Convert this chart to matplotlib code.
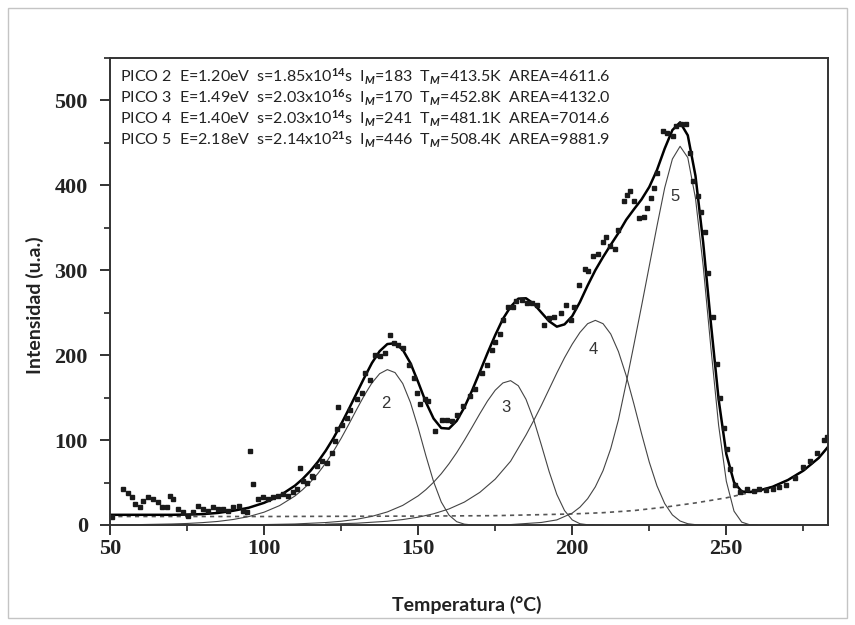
import matplotlib.pyplot as plt
from matplotlib.ticker import MultipleLocator
from matplotlib.patches import Rectangle

plt.rcParams['font.family'] = 'Liberation Serif'
plt.rcParams['font.weight'] = 'bold'
plt.rcParams['mathtext.fontset'] = 'custom'
plt.rcParams['mathtext.rm'] = 'Lato'
plt.rcParams['mathtext.it'] = 'Lato:italic'
plt.rcParams['mathtext.bf'] = 'Lato:bold'

# puntos experimentales (curva de TL medida)
temp_exp = [50.5, 54.3, 55.9, 57.0, 58.1, 59.7, 60.8, 62.4, 64.0, 65.7, 66.8, 68.4, 69.5, 70.6,
            72.2, 73.8, 75.4, 77.0, 78.7, 80.3, 81.9, 83.5, 85.2, 86.8, 88.4, 90.0, 91.7, 93.3,
            94.4, 95.5, 96.5, 98.1, 99.8, 101.4, 103.0, 104.6, 106.3, 107.9, 109.5, 110.6, 111.7,
            112.7, 113.8, 115.5, 116.0, 117.1, 118.7, 120.4, 122.0, 123.1, 123.6, 124.1, 125.2,
            126.8, 127.9, 130.1, 131.7, 132.8, 134.4, 136.0, 137.7, 139.3, 140.9, 142.0, 143.6,
            145.2, 146.9, 148.5, 149.6, 150.6, 152.3, 153.3, 155.5, 157.7, 159.3, 160.9, 162.6,
            164.7, 166.9, 168.5, 170.7, 172.3, 173.9, 174.9, 176.5, 177.6, 179.2, 180.8, 181.9,
            183.6, 185.2, 186.9, 188.5, 190.7, 192.4, 194.0, 196.3, 197.9, 199.6, 200.7, 202.3,
            204.0, 205.1, 206.7, 208.4, 210.0, 211.1, 212.2, 213.9, 215.0, 216.7, 217.7, 218.8,
            219.9, 221.6, 223.2, 224.3, 225.4, 226.5, 227.6, 229.3, 230.9, 232.6, 233.7, 235.3,
            237.0, 238.1, 239.2, 240.8, 241.9, 243.1, 244.2, 245.8, 246.9, 248.0, 249.1, 250.2,
            251.3, 252.9, 254.6, 256.8, 259.0, 260.6, 262.9, 265.0, 267.2, 269.5, 272.2, 274.9,
            277.2, 279.3, 281.6, 282.8]
int_exp = [9, 42, 38, 32.5, 25, 21, 28.5, 32.5, 30.5, 26.6, 21, 21, 34.4, 30.5,
           19, 15, 11, 15, 22.7, 18.8, 16.8, 20.8, 18.8, 18.8, 16.8, 20.8, 22.7, 16.8,
           15, 87, 48, 30.5, 32.5, 30.5, 32.5, 34.4, 36.4, 34.4, 38.3, 42, 67.7,
           52, 50, 58, 56, 69.6, 75.5, 73.6, 85, 99, 112.7, 139, 118,
           126, 136, 148, 155.7, 179, 171, 200.7, 198.7, 202.7, 224, 214, 212,
           208.6, 189, 173, 155.7, 142, 148, 146, 110.7, 124, 124, 122, 130,
           140, 151.8, 159.6, 179, 189, 206.6, 215, 225.5, 241.4, 257.3, 257.3, 263.3,
           265.3, 261.3, 261.3, 259.3, 235.4, 243.4, 245.3, 249.3, 259.3, 241.4, 257.3, 283.2,
           301, 299, 317, 319, 333, 339, 329, 325, 347, 381, 389, 393,
           381, 361, 363, 373, 385, 397, 414, 464, 462, 458, 470, 472,
           472, 438, 405, 387, 369, 345, 297, 245, 190, 150, 114, 90,
           66, 47, 39, 42, 40, 42, 41, 42, 45, 47, 55, 68,
           75, 85, 100, 104]

# curva ajustada total
temp_ajuste = [50, 60, 70, 75, 80, 85, 90, 95, 100, 105, 110, 112.5, 115, 117.5, 120, 122.5,
               125, 127.5, 130, 132.5, 135, 137.5, 140, 142.5, 145, 147.5, 150, 152.5, 155,
               157.5, 160, 162.5, 165, 167.5, 170, 172.5, 175, 177.5, 180, 182.5, 185, 187.5,
               190, 192.5, 195, 197.5, 200, 202.5, 205, 207.5, 210, 212.5, 215, 217.5, 220,
               222.5, 225, 227.5, 230, 232.5, 235, 237.5, 240, 242.5, 245, 247.5, 250, 252.5,
               255, 257.5, 260, 265, 270, 275, 280, 283]
int_ajuste = [12, 12, 12, 12.3, 12.8, 14.2, 16.8, 20.3, 26.1, 34.3, 46.3, 54.2, 63.6, 74.6, 87.5, 102.2,
              118.7, 136.5, 154.9, 173.3, 190.8, 204.7, 213.1, 214.1, 206.4, 190.6, 168.3, 144.7, 125.4,
              114.2, 113.5, 122.6, 138.6, 158.4, 180.2, 202.4, 223.5, 242.7, 257, 266.6, 267, 260.6,
              250.2, 240, 233.6, 236.3, 246, 262.6, 282.1, 300.1, 315.6, 330, 343.9, 359.4, 371.7,
              383.5, 398.1, 418.1, 443.3, 465.1, 474.2, 458.9, 411.1, 332.5, 237.6, 148.1, 83.6, 50.3,
              39.4, 38.9, 40, 45, 53, 64, 79, 92]

# fondo
temp_fondo = [50, 100, 150, 175, 200, 210, 220, 230, 240, 250, 255, 260, 265, 270, 275, 280, 283]
int_fondo = [10, 10, 10.5, 11, 13, 14.5, 17, 21, 26, 32, 36, 40, 45, 53, 64, 79, 92]

# picos deconvolucionados
temp_p2 = [60, 70, 75, 80, 85, 90, 95, 100, 105, 110, 112.5, 115, 117.5, 120, 122.5, 125, 127.5,
           130, 132.5, 135, 137.5, 140, 142.5, 145, 147.5, 150, 152.5, 155, 157.5, 160, 162.5,
           165, 167.5, 170]
int_p2 = [0.5, 1.2, 1.8, 2.8, 4.2, 6.5, 9.9, 15.1, 22.8, 34.1, 41.6, 50.4, 60.8, 72.9, 86.7, 102, 118.6,
          135.8, 152.5, 167.3, 178.2, 183, 179.5, 166.6, 144.2, 114.5, 81.7, 51.1, 27.1, 11.7, 3.9,
          1.0, 0.1, 0]

temp_p3 = [100, 110, 120, 125, 130, 135, 140, 145, 150, 152.5, 155, 157.5, 160, 162.5, 165, 167.5,
           170, 172.5, 175, 177.5, 180, 182.5, 185, 187.5, 190, 192.5, 195, 197.5, 200, 202.5, 205, 210]
int_p3 = [0.5, 1.2, 2.9, 4.4, 6.7, 10.2, 15.4, 23.1, 34.3, 41.6, 50.3, 60.4, 72.1, 85.2, 99.8, 115.2,
          131, 146, 158.7, 167.3, 170, 164, 148, 124, 94, 63, 36, 17, 6, 1.5, 0.3, 0]

temp_p4 = [120, 130, 140, 145, 150, 155, 160, 165, 170, 175, 180, 185, 187.5, 190, 192.5, 195, 197.5,
           200, 202.5, 205, 207.5, 210, 212.5, 215, 217.5, 220, 222.5, 225, 227.5, 230, 232.5, 235,
           237.5, 240, 245]
int_p4 = [1.0, 2.1, 4.4, 6.4, 9.2, 13.2, 18.9, 27, 38.4, 54, 75.1, 106, 123, 141, 160, 179, 197,
          213, 226.8, 237.1, 241, 237.1, 224.9, 204.2, 176.1, 142.7, 107.5, 74.1, 46.1, 25.3, 11.9, 4.7,
          1.5, 0.4, 0]

temp_p5 = [180, 190, 195, 200, 202.5, 205, 207.5, 210, 212.5, 215, 217.5, 220, 222.5, 225, 227.5,
           230, 232.5, 235, 237.5, 240, 242.5, 245, 247.5, 250, 252.5, 255, 257.5, 260]
int_p5 = [0.5, 3, 6, 14, 21, 31, 45, 64, 90, 124, 167, 212, 258, 305, 352,
          397, 431, 446, 432.7, 384.7, 305, 208.6, 117.6, 51.6, 16.3, 3.4, 0.4, 0]

# parametros de cada pico
picos = [2, 3, 4, 5]
energias = [1.20, 1.49, 1.40, 2.18]
s_mantisa = [1.85, 2.03, 2.03, 2.14]
s_exponente = [14, 16, 14, 21]
i_max = [183, 170, 241, 446]
t_max = [413.5, 452.8, 481.1, 508.4]
areas = [4611.6, 4132.0, 7014.6, 9881.9]

pos_etiquetas = [(139.6, 143), (178.6, 138), (206.8, 207), (233.4, 387)]

fig = plt.figure(figsize=(8.55, 6.25), dpi=100)
ax = fig.add_axes([110 / 855, 100 / 625, 718 / 855, 467 / 625])

# marco exterior de la figura escaneada
fig.patches.append(Rectangle((0.009, 0.012), 0.982, 0.976, transform=fig.transFigure,
                             fill=False, ec='#c4c4c4', lw=1.0))

ax.plot(temp_fondo, int_fondo, ls=(0, (2.5, 2.5)), color='#555555', lw=1.2)
for t, i in [(temp_p2, int_p2), (temp_p3, int_p3), (temp_p4, int_p4), (temp_p5, int_p5)]:
    ax.plot(t, i, color='#444444', lw=0.8)
ax.plot(temp_ajuste, int_ajuste, color='black', lw=1.8)
ax.plot(temp_exp, int_exp, 's', ms=3.2, color='#1a1a1a', mec='#1a1a1a')

for n, (x, y) in zip(picos, pos_etiquetas):
    ax.text(x, y, str(n), family='Liberation Sans', weight='normal', fontsize=12,
            color='#333333', ha='center', va='center')

for k in range(len(picos)):
    linea = (f'PICO {picos[k]}  E={energias[k]:.2f}eV  '
             f's={s_mantisa[k]:.2f}x10$^{{{s_exponente[k]}}}$s  '
             f'I$_{{M}}$={i_max[k]}  T$_{{M}}$={t_max[k]:.1f}K  AREA={areas[k]:.1f}')
    ax.text(0.014, 0.959 - 0.045 * k, linea, transform=ax.transAxes, family='Lato',
            weight='normal', fontsize=11.5, color='#222222', va='center', ha='left')

ax.set_xlim(50, 283)
ax.set_ylim(0, 550)
ax.xaxis.set_major_locator(MultipleLocator(50))
ax.xaxis.set_minor_locator(MultipleLocator(25))
ax.yaxis.set_major_locator(MultipleLocator(100))
ax.yaxis.set_minor_locator(MultipleLocator(50))
ax.tick_params(which='major', direction='out', length=7, width=1.3, labelsize=16, colors='#222222')
ax.tick_params(which='minor', direction='out', length=4, width=1.2, colors='#222222')
ax.tick_params(axis='x', pad=3)
ax.tick_params(axis='y', pad=9)
for s in ax.spines.values():
    s.set_linewidth(1.4)
    s.set_color('#333333')

ax.set_xlabel('Temperatura (°C)', family='Lato', weight='bold', fontsize=14, color='#222222')
ax.set_ylabel('Intensidad (u.a.)', family='Lato', weight='bold', fontsize=14, color='#222222')
ax.xaxis.set_label_coords(0.497, -0.171)
ax.xaxis.label.set_va('center')
ax.yaxis.set_label_coords(-0.104, 0.47)
ax.yaxis.label.set_va('center')

fig.savefig('out.png', dpi=100)
